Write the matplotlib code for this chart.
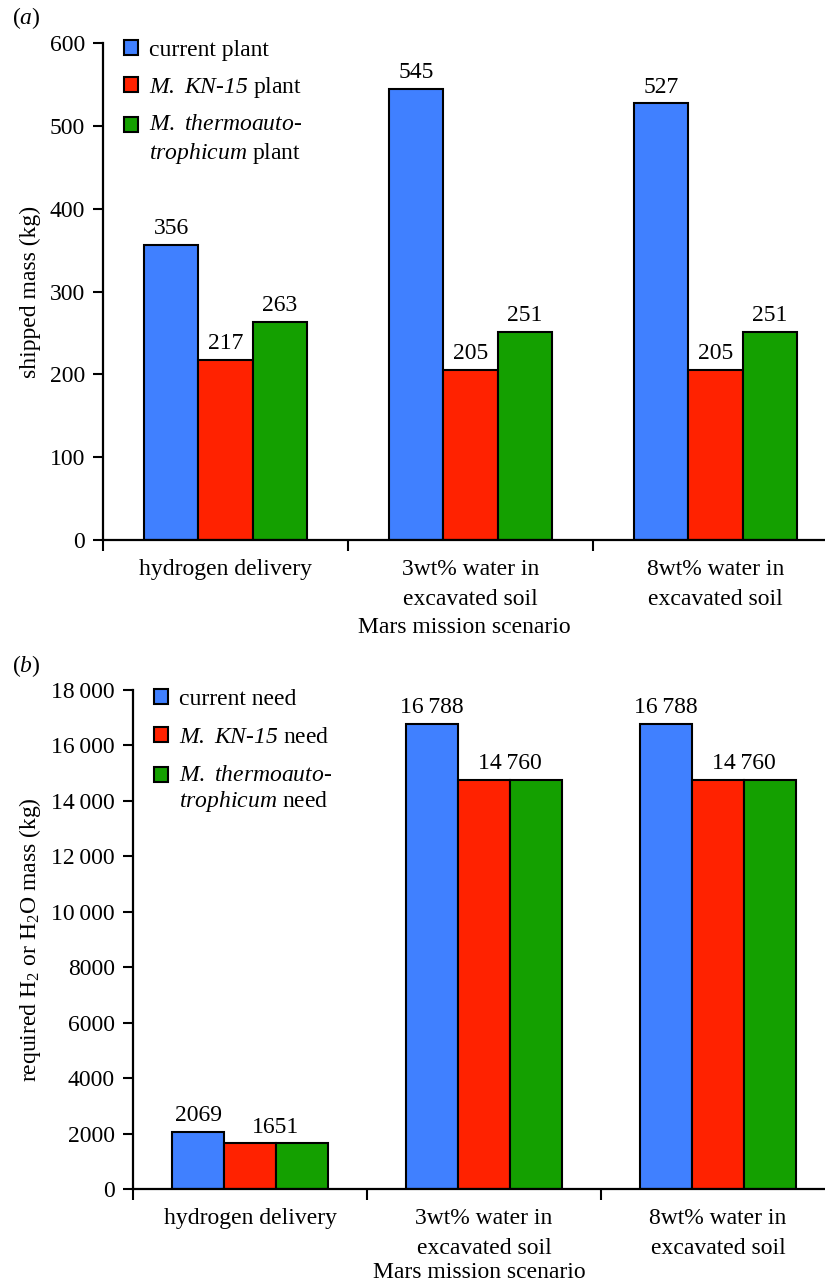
import numpy as np
import matplotlib
matplotlib.use("Agg")
import matplotlib.pyplot as plt
from matplotlib.patches import Rectangle
from matplotlib.container import BarContainer
from matplotlib.legend_handler import HandlerPatch, update_from_first_child

plt.rcParams['font.family'] = ['Liberation Serif', 'DejaVu Serif']
plt.rcParams['mathtext.fontset'] = 'custom'
plt.rcParams['mathtext.rm'] = 'Liberation Serif'
plt.rcParams['mathtext.it'] = 'Liberation Serif:italic'
# bf slot used for italic words that contain digits (mathtext keeps digits upright in 'it')
plt.rcParams['mathtext.bf'] = 'Liberation Serif:italic'
plt.rcParams['font.size'] = 17

# data
scenarios = ["hydrogen delivery", "3wt% water in\nexcavated soil", "8wt% water in\nexcavated soil"]
plant_current = [356, 545, 527]
plant_kn15 = [217, 205, 205]
plant_thermo = [263, 251, 251]
need_current = [2069, 16788, 16788]
need_kn15 = [1651, 14760, 14760]
need_thermo = [1651, 14760, 14760]

colors = ["#4080ff", "#ff2200", "#14a000"]
THIN = "\u2009"


def fmt(v):
    if v >= 10000:
        return f"{v:,}".replace(",", THIN)
    return str(v)


def square(legend, orig_handle, xdescent, ydescent, width, height, fontsize):
    # keep the square next to the first line of a two-line label
    shift = 0
    if "\n" in orig_handle.get_label():
        shift = 0.62 * fontsize
    return Rectangle((-xdescent, -ydescent + shift), width, height)


def style_axes(ax, ymax, ystep, right, xlabelpad):
    ax.set_xlim(-0.5, right)
    ax.set_ylim(0, ymax)
    ticks = np.arange(0, ymax + 1, ystep)
    ax.set_yticks(ticks)
    ax.set_yticklabels([fmt(int(v)) for v in ticks])
    ax.set_xticks([-0.5, 0.5, 1.5])
    ax.set_xticklabels([])
    ax.set_xticks([0, 1, 2], minor=True)
    ax.set_xticklabels(scenarios, minor=True, linespacing=1.55)
    ax.tick_params(axis="x", which="minor", length=0, pad=14)
    ax.tick_params(axis="x", which="major", direction="out", length=8, width=1.5)
    ax.tick_params(axis="y", direction="out", length=7, width=1.5, pad=6)
    for s in ["top", "right"]:
        ax.spines[s].set_visible(False)
    for s in ["left", "bottom"]:
        ax.spines[s].set_linewidth(1.6)
    ax.set_xlabel("Mars mission scenario", labelpad=xlabelpad)


def add_legend(ax, anchor, spacing, ls):
    handler = HandlerPatch(patch_func=square, update_func=update_from_first_child)
    leg = ax.legend(loc="upper left", bbox_to_anchor=anchor, frameon=False,
                    handlelength=0.6, handleheight=0.6, handletextpad=0.45, labelspacing=spacing,
                    handler_map={BarContainer: handler})
    for t in leg.get_texts():
        t.set_linespacing(ls)


fig = plt.figure(figsize=(8.25, 12.85), dpi=100)
bw = 0.222
x = np.arange(3)

# (a) shipped mass
ax1 = fig.add_axes([103 / 825, 1 - 540 / 1285, 722 / 825, 497 / 1285])
series_a = [plant_current, plant_kn15, plant_thermo]
labels_a = ["current plant", r"$\mathbf{M.}$ $\mathbf{KN}$-$\mathbf{15}$ plant",
            r"$\mathit{M.}$ $\mathit{thermoauto}$-" + "\n" + r"$\mathit{trophicum}$ plant"]
for i, vals in enumerate(series_a):
    bars = ax1.bar(x + (i - 1) * bw, vals, bw, color=colors[i], edgecolor="black",
                   linewidth=1.5, label=labels_a[i])
    for b, v in zip(bars, vals):
        ax1.text(b.get_x() + b.get_width() / 2, v + 7, str(v), ha="center", va="bottom")
style_axes(ax1, 600, 100, 2.447, 5)
ax1.set_ylabel("shipped mass (kg)", labelpad=6)
add_legend(ax1, (0.0, 1.049), 0.6, 1.3)
fig.text(12 / 825, 1 - 18 / 1285, r"($\mathit{a}$)", va="center", ha="left")

# (b) required H2 / H2O mass
ax2 = fig.add_axes([133 / 825, 1 - 1189 / 1285, 692 / 825, 499 / 1285])
series_b = [need_current, need_kn15, need_thermo]
labels_b = ["current need", r"$\mathbf{M.}$ $\mathbf{KN}$-$\mathbf{15}$ need",
            r"$\mathit{M.}$ $\mathit{thermoauto}$-" + "\n" + r"$\mathit{trophicum}$ need"]
for i, vals in enumerate(series_b):
    ax2.bar(x + (i - 1) * bw, vals, bw, color=colors[i], edgecolor="black",
            linewidth=1.5, label=labels_b[i])
for j in range(3):
    ax2.text(x[j] - bw, need_current[j] + 200, fmt(need_current[j]), ha="center", va="bottom")
    if need_kn15[j] == need_thermo[j]:
        ax2.text(x[j] + bw / 2, need_kn15[j] + 200, fmt(need_kn15[j]), ha="center", va="bottom")
    else:
        ax2.text(x[j], need_kn15[j] + 200, fmt(need_kn15[j]), ha="center", va="bottom")
        ax2.text(x[j] + bw, need_thermo[j] + 200, fmt(need_thermo[j]), ha="center", va="bottom")
style_axes(ax2, 18000, 2000, 2.457, 2)
ax2.set_ylabel(r"required H$_2$ or H$_2$O mass (kg)", labelpad=6)
add_legend(ax2, (0.0, 1.045), 0.72, 1.2)
fig.text(12 / 825, 1 - 666 / 1285, r"($\mathit{b}$)", va="center", ha="left")

fig.savefig("out.png", dpi=100)
